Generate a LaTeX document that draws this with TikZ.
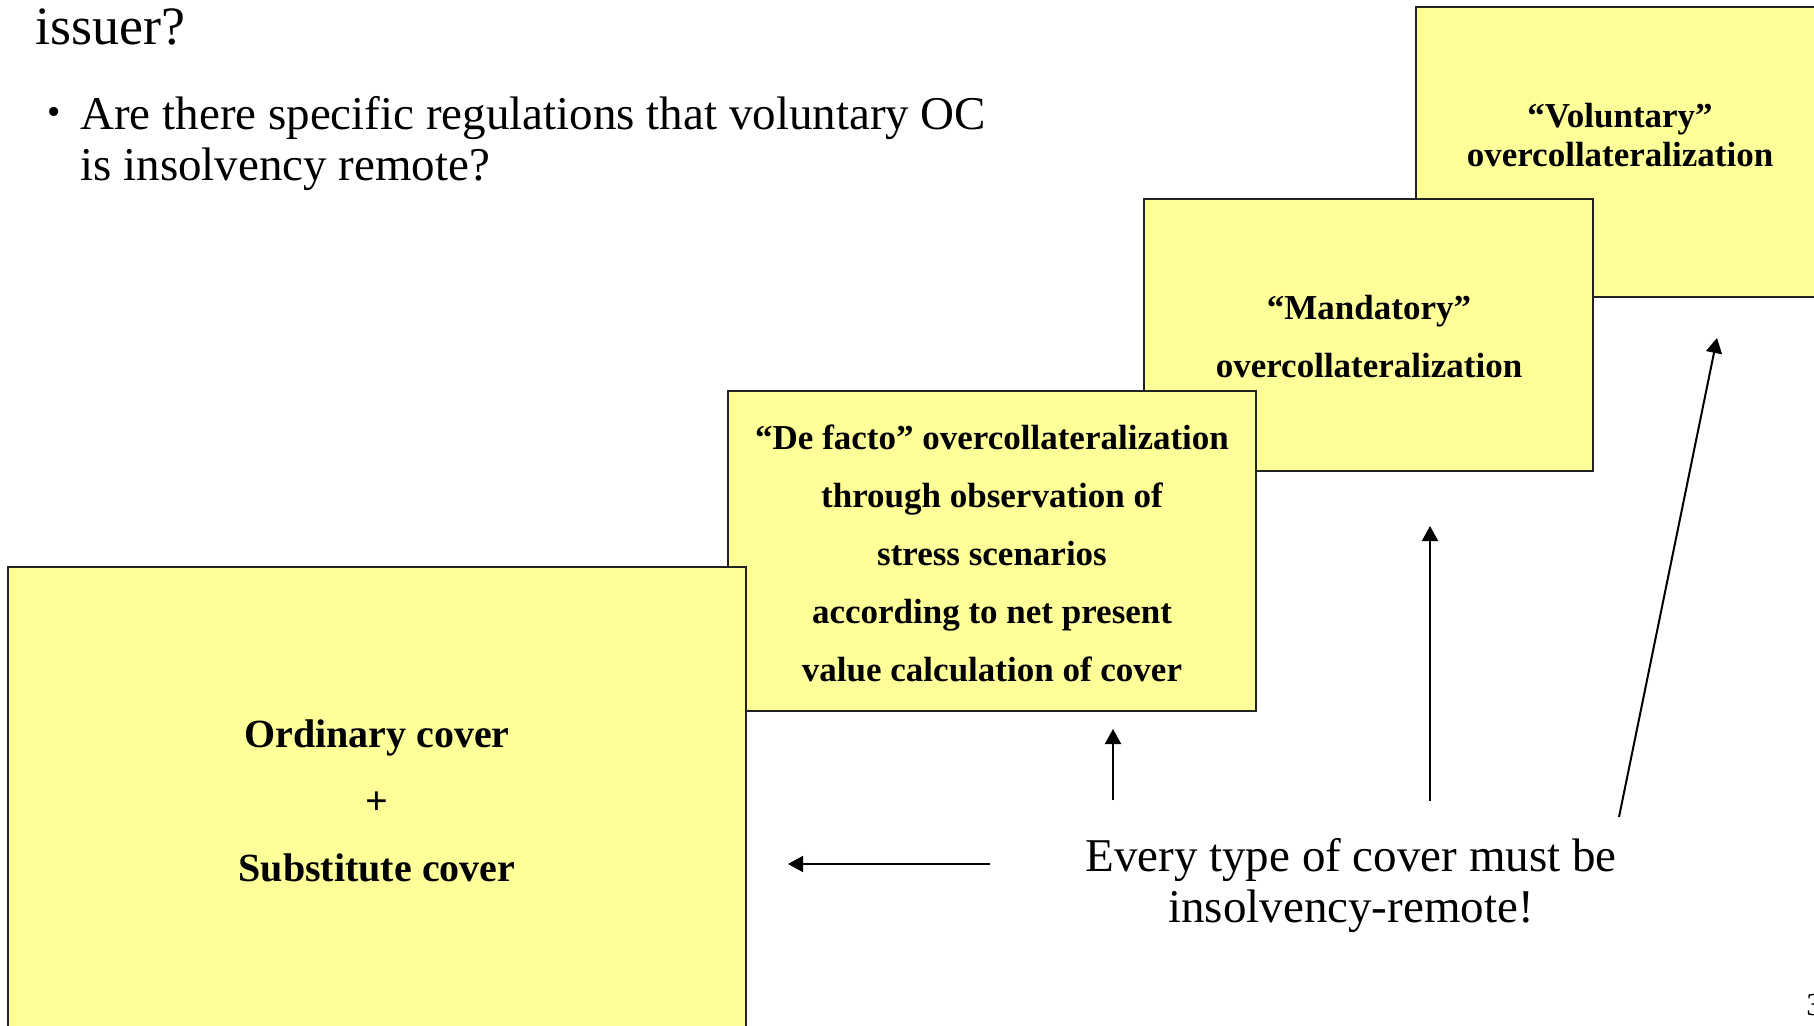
\documentclass[tikz,border=0pt]{standalone}
\usepackage{fontspec}
\setmainfont{Liberation Serif}
\usetikzlibrary{arrows.meta}
\definecolor{notepaper}{HTML}{FFFF99}
\definecolor{edgegray}{HTML}{222222}

\begin{document}
\begin{tikzpicture}[x=0.5pt,y=-0.5pt,
  coverbox/.style={draw=edgegray, line width=1pt, fill=notepaper, rectangle, inner sep=0pt},
  boxtext/.style={font=\fontsize{17.5}{29}\selectfont\bfseries, align=center, inner sep=0pt},
  bodytext/.style={font=\fontsize{23.5}{25.5}\selectfont, inner sep=0pt},
  arr/.style={-{Triangle[length=7.5pt,width=8pt]}, line width=1pt}
]
\useasboundingbox (0,0) rectangle (1814,1026);
\fill[white] (0,0) rectangle (1814,1026);

% stacked cover boxes, back to front
\node[coverbox, minimum width=204pt, minimum height=145pt] (vol) at (1620,152) {};
\node[coverbox, minimum width=224.5pt, minimum height=136pt] (man) at (1368.5,335) {};
\node[coverbox, minimum width=264pt, minimum height=160pt] (fact) at (992,551) {};
\node[coverbox, minimum width=369pt, minimum height=236.5pt] (ord) at (377,803.5) {};

% box captions
\node[boxtext, font=\fontsize{17.5}{19.5}\selectfont\bfseries] (voltxt) at (1620,135) {“Voluntary”\\overcollateralization};
\node[boxtext] (mantxt) at (1369,337) {“Mandatory”\\overcollateralization};
\node[boxtext] (facttxt) at (992,553) {“De facto” overcollateralization\\through observation of\\stress scenarios\\according to net present\\value calculation of cover};
\node[boxtext, font=\fontsize{20}{33.5}\selectfont\bfseries] (ordtxt) at (377,801) {Ordinary cover\\+\\Substitute cover};

% slide text
\node[bodytext, font=\fontsize{27}{30}\selectfont, anchor=west] (issuer) at (35,27) {issuer?};
\node[bodytext, font=\fontsize{19}{20}\selectfont] (dot) at (54.5,116) {\textbullet};
\node[bodytext, anchor=west, align=left] (question) at (80,144) {Are there specific regulations that voluntary OC\\is insolvency remote?};
\node[bodytext, align=center] (every) at (1351,886) {Every type of cover must be\\insolvency-remote!};
\node[font=\fontsize{16}{18}\selectfont, anchor=west, inner sep=0pt] (pageno) at (1806,1005) {3};

% arrows from the statement towards each kind of cover
\coordinate (ordS) at (990,864);  \coordinate (ordE) at (788,864);
\coordinate (factS) at (1113,800); \coordinate (factE) at (1113,729);
\coordinate (manS) at (1430,801);  \coordinate (manE) at (1430,526);
\coordinate (volS) at (1619,817);  \coordinate (volE) at (1717,338);
\draw[arr] (ordS) -- (ordE);
\draw[arr] (factS) -- (factE);
\draw[arr] (manS) -- (manE);
\draw[arr] (volS) -- (volE);
\end{tikzpicture}
\end{document}
